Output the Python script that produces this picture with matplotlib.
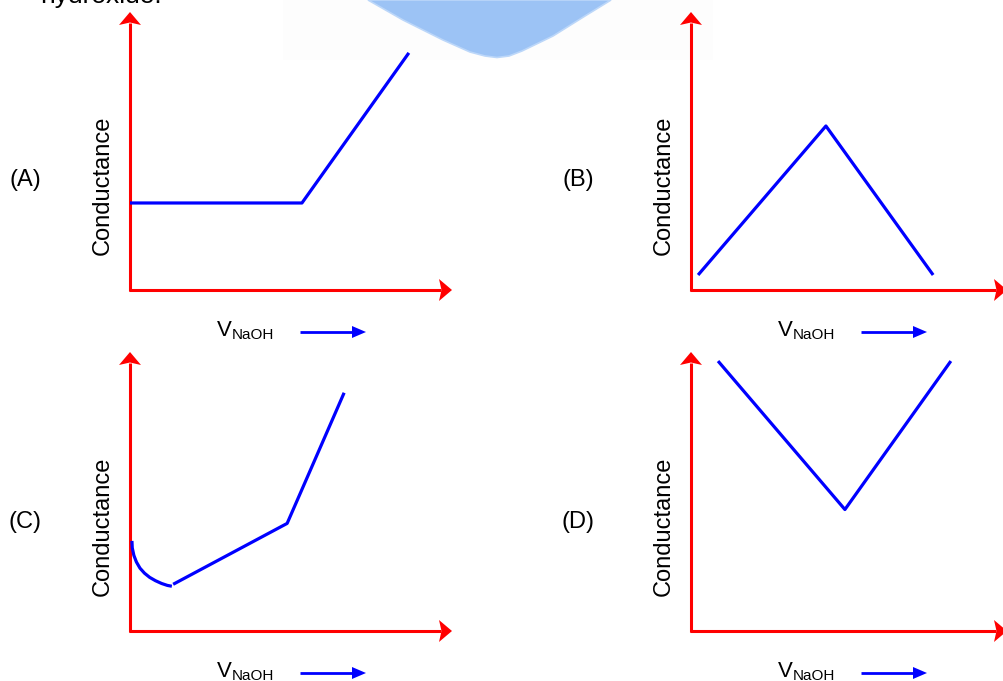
import matplotlib
matplotlib.use("Agg")
import matplotlib.pyplot as plt
from matplotlib.patches import Polygon

plt.rcParams['font.family'] = ['Liberation Sans', 'DejaVu Sans']

# Titration curves: conductance vs volume of NaOH (arbitrary units, 0-100 scale)
labels = ["(A)", "(B)", "(C)", "(D)"]
curve_a_x = [0.0, 53.4, 86.6]
curve_a_y = [31.3, 31.3, 85.3]
curve_b_x = [2.2, 41.9, 75.2]
curve_b_y = [5.4, 59.0, 5.4]
curve_c_arc_x = [0.6, 0.7, 1.2, 2.0, 3.1, 4.5, 6.1, 7.9, 9.8, 11.6, 13.0]
curve_c_arc_y = [32.4, 29.9, 27.2, 24.8, 22.6, 20.8, 19.3, 18.1, 17.1, 16.4, 16.1]
curve_c_x = [13.4, 48.8, 66.5]
curve_c_y = [16.8, 38.7, 85.7]
curve_d_x = [8.4, 47.8, 80.7]
curve_d_y = [97.1, 43.7, 97.1]
y_label = "Conductance"
x_label_main = "V"
x_label_sub = "NaOH"

W, H = 1004, 681
fig = plt.figure(figsize=(W / 100, H / 100), dpi=100)

# overlay in pixel coordinates for decorations
deco = fig.add_axes([0, 0, 1, 1])
deco.set_xlim(0, W)
deco.set_ylim(H, 0)
deco.axis('off')

RED = '#ff0000'
BLUE = '#0000ff'

# faint background band and blue badge at the top
deco.add_patch(Polygon([[283, 0], [713, 0], [713, 60], [283, 60]],
                       closed=True, facecolor='#fdfdfd', edgecolor='none', zorder=0))
badge = [[368, 0], [403, 20], [443, 40], [470, 52], [485, 56], [497, 57.5],
         [509, 56], [522, 51], [553, 36], [585, 16], [611, 0]]
deco.add_patch(Polygon(badge, closed=True, facecolor='#9cc3f5', edgecolor='#bcd7f9',
                       linewidth=1.2, zorder=1))

deco.text(40, 3, "hydroxide.", fontsize=19, color='black', va='baseline', ha='left')

# panel geometry: origin (px), width/height of the axis arrows (px)
panels = [
    dict(ox=130, oy=290, w=322, h=278),
    dict(ox=691, oy=290, w=316, h=278),
    dict(ox=130, oy=631, w=322, h=279),
    dict(ox=691, oy=631, w=316, h=279),
]
curves = [
    [(curve_a_x, curve_a_y)],
    [(curve_b_x, curve_b_y)],
    [(curve_c_arc_x, curve_c_arc_y), (curve_c_x, curve_c_y)],
    [(curve_d_x, curve_d_y)],
]
label_pos = [(25, 180), (578, 180), (25, 522), (578, 522)]


def red_axes(ox, oy, w, h):
    head_len, half_w, notch = 13, 11, 2.5
    lw = 2.2
    deco.plot([ox, ox], [oy + 1, oy - h + head_len - 2], color=RED, lw=lw,
              solid_capstyle='butt', zorder=3)
    deco.plot([ox - 1, ox + w - head_len + 2], [oy, oy], color=RED, lw=lw,
              solid_capstyle='butt', zorder=3)
    tip_y = oy - h
    deco.add_patch(Polygon([[ox, tip_y], [ox + half_w, tip_y + head_len],
                            [ox, tip_y + head_len - notch], [ox - half_w, tip_y + head_len]],
                           closed=True, facecolor=RED, edgecolor='none', zorder=3))
    tip_x = ox + w
    deco.add_patch(Polygon([[tip_x, oy], [tip_x - head_len, oy - half_w],
                            [tip_x - head_len + notch, oy], [tip_x - head_len, oy + half_w]],
                           closed=True, facecolor=RED, edgecolor='none', zorder=3))


for p, segs, lab, (lx, ly) in zip(panels, curves, labels, label_pos):
    ox, oy, w, h = p['ox'], p['oy'], p['w'], p['h']
    red_axes(ox, oy, w, h)
    # data axes spanning 0..100 in both directions, 322 x 278 px
    ax = fig.add_axes([ox / W, (H - oy) / H, 322 / W, 278 / H])
    ax.set_xlim(0, 100)
    ax.set_ylim(0, 100)
    ax.axis('off')
    ax.patch.set_alpha(0)
    for xs, ys in segs:
        ax.plot(xs, ys, color=BLUE, lw=2.3, solid_capstyle='butt',
                solid_joinstyle='round', clip_on=False, zorder=4)
    # labels
    deco.text(lx, ly, lab, fontsize=17, ha='center', va='center')
    deco.text(ox - 27, oy - 105, y_label, fontsize=17, rotation=90,
              ha='center', va='center')
    deco.text(ox + 87, oy + 46, x_label_main, fontsize=16, ha='left', va='baseline')
    deco.text(ox + 102, oy + 49, x_label_sub, fontsize=11, ha='left', va='baseline')
    ay = oy + 42
    deco.plot([ox + 170, ox + 224], [ay, ay], color=BLUE, lw=2.0, zorder=3,
              solid_capstyle='butt')
    deco.add_patch(Polygon([[ox + 236, ay], [ox + 222, ay - 6], [ox + 222, ay + 6]],
                           closed=True, facecolor=BLUE, edgecolor='none', zorder=3))

fig.savefig("out.png", dpi=100)
